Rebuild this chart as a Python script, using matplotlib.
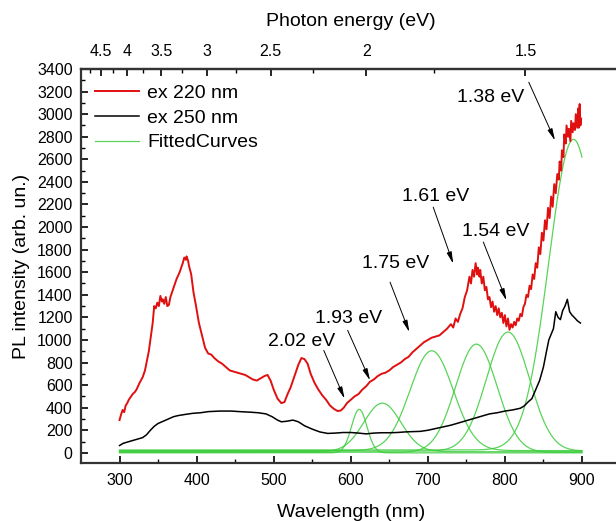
import numpy as np
import matplotlib
matplotlib.use("Agg")
import matplotlib.pyplot as plt
from matplotlib.ticker import FixedLocator, MultipleLocator, FuncFormatter

plt.rcParams['font.family'] = ['Liberation Sans', 'DejaVu Sans']

# ---- data ----
red_wl = [300, 302, 304, 306, 308, 310, 312, 315, 317, 320, 322, 326, 330, 333, 335, 338, 340, 343, 345, 347,
          349, 351, 353, 355, 356, 358, 360, 362, 364, 366, 368, 370, 372, 374, 376, 378, 380, 382, 384, 386,
          387, 389, 390, 393, 396, 399, 403, 407, 411, 415, 419, 423, 428, 433, 438, 443, 448, 453, 458,
          463, 468, 473, 478, 483, 488, 492, 496, 500, 505, 510, 514, 518, 522, 527, 532, 536, 540, 544, 548,
          553, 558, 563, 568, 573, 578, 583, 587, 591, 595, 600, 605, 610, 615, 620, 625, 630, 635, 640, 645,
          650, 655, 660, 665, 670, 675, 680, 685, 690, 695, 700, 705, 710, 715, 720, 725, 730, 733, 736, 739,
          742, 745, 748, 751, 754, 756, 758, 760, 762, 764, 765, 767, 768, 770, 772, 774, 776, 778, 780, 782,
          784, 786, 788, 790, 792, 794, 796, 798, 800, 802, 804, 806, 808, 810, 812, 814, 816, 818, 820, 822,
          824, 826, 828, 830, 832, 834, 836, 838, 840, 842, 844, 846, 848, 850, 852, 854, 856, 858, 860, 862,
          864, 866, 868, 870, 871, 873, 874, 876, 877, 879, 880, 882, 883, 885, 886, 888, 889, 891, 892, 894,
          895, 896, 897, 898, 899]
red_int = [290, 340, 380, 360, 420, 440, 470, 500, 520, 540, 560, 620, 670, 730, 800, 900, 1000, 1150, 1300, 1280,
           1330, 1300, 1390, 1340, 1360, 1320, 1380, 1300, 1310, 1380, 1420, 1460, 1500, 1540, 1570, 1600, 1640, 1680, 1730, 1710,
           1740, 1700, 1660, 1580, 1420, 1310, 1150, 1040, 930, 880, 870, 840, 810, 790, 760, 730, 720, 710, 700,
           690, 670, 650, 640, 660, 680, 690, 640, 560, 480, 440, 450, 520, 580, 680, 780, 840, 830, 790, 700,
           620, 560, 510, 470, 420, 390, 370, 375, 400, 440, 470, 500, 520, 560, 590, 630, 650, 680, 700, 710,
           730, 760, 780, 800, 830, 850, 890, 920, 950, 980, 1000, 1020, 1030, 1040, 1070, 1100, 1140, 1110, 1190, 1160,
           1230, 1280, 1380, 1440, 1560, 1500, 1620, 1560, 1680, 1580, 1640, 1560, 1620, 1500, 1560, 1440, 1470, 1360, 1380, 1290,
           1340, 1250, 1300, 1220, 1280, 1200, 1240, 1150, 1220, 1120, 1190, 1090, 1140, 1110, 1160, 1130, 1190, 1170, 1230, 1210,
           1290, 1320, 1400, 1380, 1480, 1450, 1580, 1540, 1680, 1640, 1820, 1760, 1950, 1880, 2060, 1980, 2170, 2080, 2270, 2180,
           2380, 2300, 2470, 2420, 2580, 2500, 2680, 2620, 2820, 2740, 2900, 2800, 2870, 2760, 2940, 2840, 2920, 2860, 3000, 2880,
           3050, 2880, 3090, 2900, 2960]

blk_wl = [300, 305, 310, 315, 320, 325, 330, 335, 340, 345, 350, 355, 360, 365, 370, 376, 385, 395, 405, 415,
          430, 445, 456, 470, 480, 490, 498, 505, 510, 517, 525, 532, 540, 550, 560, 570, 580, 590, 600, 610,
          620, 630, 640, 650, 660, 670, 680, 690, 700, 710, 720, 730, 740, 750, 760, 770, 780, 790, 800, 810,
          820, 825, 830, 835, 840, 845, 850, 854, 857, 860, 863, 866, 869, 872, 875, 878, 881, 884, 887, 890,
          894, 898]
blk_int = [65, 85, 95, 105, 115, 125, 135, 160, 200, 235, 260, 275, 290, 305, 320, 330, 340, 350, 355, 365,
           370, 370, 365, 360, 355, 345, 320, 290, 275, 280, 290, 275, 240, 210, 185, 172, 175, 180, 180, 175,
           168, 175, 178, 178, 180, 185, 188, 190, 200, 215, 230, 245, 265, 285, 305, 325, 345, 355, 370, 380,
           395, 415, 450, 480, 560, 640, 760, 900, 1000, 1050, 1100, 1250, 1200, 1180, 1260, 1300, 1360, 1250, 1220, 1200,
           1170, 1150]

# fitted peak parameters: centre (nm), height, sigma (nm), baseline
fit_center = [611, 641, 705, 763, 804, 889]
fit_height = [385, 430, 884, 958, 1055, 2752]
fit_sigma = [10, 24, 28, 27, 28, 32]
fit_base = [0, 10, 20, 5, 15, 25]
fit_range = [300, 900]

labels = ["2.02 eV", "1.93 eV", "1.75 eV", "1.61 eV", "1.54 eV", "1.38 eV"]
label_xy = [(536, 987), (597, 1191), (658, 1678), (710, 2271), (788, 1961), (782, 3150)]
arrow_from = [(565, 907), (596, 1085), (651, 1512), (707, 2176), (772, 1867), (831, 3283)]
arrow_to = [(592, 480), (625, 642), (676, 1070), (733, 1675), (802, 1350), (865, 2767)]

energy_major = [4.5, 4, 3.5, 3, 2.5, 2, 1.5]
energy_minor = [4.75, 4.25, 3.75, 3.25, 2.75, 2.25, 1.75]

# ---- figure ----
fig = plt.figure(figsize=(6.16, 5.21), dpi=100)
ax = fig.add_axes([81 / 616, 1 - 463 / 521, (620.5 - 81) / 616, (463 - 69) / 521])

l_red, = ax.plot(red_wl, red_int, color='#e01010', lw=1.4, zorder=3)
l_blk, = ax.plot(blk_wl, blk_int, color='black', lw=1.1, zorder=3)

green = '#3ccc3c'
xs = np.linspace(fit_range[0], fit_range[1], 601)
l_grn = None
for c, h, s, b in zip(fit_center, fit_height, fit_sigma, fit_base):
    l, = ax.plot(xs, b + h * np.exp(-(xs - c) ** 2 / (2 * s ** 2)), color=green, lw=0.9,
                 alpha=0.85, zorder=2)
    if l_grn is None:
        l_grn = l

for t, p, a, b in zip(labels, label_xy, arrow_from, arrow_to):
    ax.text(p[0], p[1], t, fontsize=14, ha='center', va='center')
    ax.annotate('', xy=b, xytext=a,
                arrowprops=dict(arrowstyle='-|>,head_width=0.15,head_length=0.7',
                                color='black', lw=0.7, shrinkA=0, shrinkB=0))

ax.set_xlim(250, 950)
ax.set_ylim(-90, 3400)
ax.xaxis.set_major_locator(FixedLocator([300, 400, 500, 600, 700, 800, 900]))
ax.xaxis.set_minor_locator(FixedLocator([350, 450, 550, 650, 750, 850]))
ax.yaxis.set_major_locator(MultipleLocator(200))
ax.yaxis.set_minor_locator(MultipleLocator(100))
ax.tick_params(axis='both', which='both', direction='in', labelsize=11.5, colors='black')
ax.tick_params(which='major', length=5, width=1.2)
ax.tick_params(which='minor', length=3, width=1.0)
ax.tick_params(axis='x', pad=7)
ax.tick_params(axis='y', pad=6)
for sp in ax.spines.values():
    sp.set_linewidth(1.6)
    sp.set_color('#333333')

ax.set_xlabel('Wavelength (nm)', fontsize=14, labelpad=12)
ax.set_ylabel('PL intensity (arb. un.)', fontsize=14, labelpad=5)

top = ax.secondary_xaxis('top', functions=(lambda x: 1240.0 / np.maximum(x, 1e-9),
                                           lambda e: 1240.0 / np.maximum(e, 1e-9)))
top.xaxis.set_major_locator(FixedLocator(energy_major))
top.xaxis.set_minor_locator(FixedLocator(energy_minor))
top.xaxis.set_major_formatter(FuncFormatter(lambda v, p: f"{v:g}"))
top.tick_params(which='both', direction='in', labelsize=11.5, pad=7)
top.tick_params(which='major', length=5, width=1.2)
top.tick_params(which='minor', length=3, width=1.0)
top.set_xlabel('Photon energy (eV)', fontsize=14, labelpad=13)
top.spines['top'].set_linewidth(1.6)
top.spines['top'].set_color('#333333')

leg = ax.legend([l_red, l_blk, l_grn], ['ex 220 nm', 'ex 250 nm', 'FittedCurves'],
                loc='upper left', bbox_to_anchor=(0.0, 0.995), frameon=False, fontsize=14,
                handlelength=2.3, handletextpad=0.4, labelspacing=0.36, borderaxespad=0.3)

fig.savefig('out.png', dpi=100)
